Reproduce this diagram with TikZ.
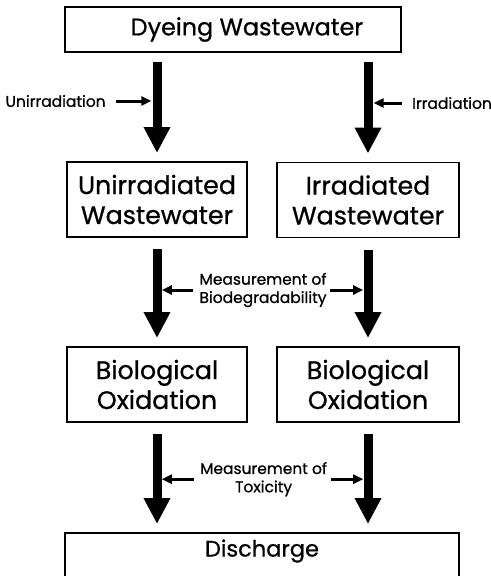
\documentclass[tikz,border=0pt]{standalone}
\usepackage{fontspec}
\setmainfont{Poppins}[FakeBold=0.8]
\usetikzlibrary{arrows.meta}

\tikzset{
    flow box/.style={draw, line width=1.4pt, align=center, inner sep=0pt, minimum width=4.5cm, minimum height=1.875cm, font=\fontsize{18}{21.3}\selectfont},
    flow arrow/.style={line width=0.225cm, -{Triangle[width=0.625cm,length=0.65cm]}, shorten <=0.28cm, shorten >=0.2cm},
    flow label/.style={align=center, inner sep=0pt, font=\fontsize{11}{13}\selectfont},
    label arrow/.style={line width=0.075cm, -{Triangle[width=0.225cm,length=0.25cm]}}
}

\begin{document}
\begin{tikzpicture}
    \useasboundingbox (0,0) rectangle (12.275,-14.4);

    \node[flow box, minimum width=8.4cm, minimum height=1.125cm, font=\fontsize{17}{20}\selectfont] (dyeing) at (5.825,-0.7375) {\hspace*{0.7cm}Dyeing Wastewater};
    \node[flow box] (unirradiated) at (3.925,-4.9875) {Unirradiated\\Wastewater};
    \node[flow box, minimum width=4.55cm] (irradiated) at (9.2,-5.0) {Irradiated\\Wastewater};
    \node[flow box] (oxidation left) at (3.925,-9.6125) {Biological\\Oxidation};
    \node[flow box, minimum width=4.55cm] (oxidation right) at (9.2,-9.6125) {Biological\\Oxidation};
    \node[flow box, minimum width=9.85cm, minimum height=1.25cm, text depth=0.5cm, font=\fontsize{16}{19}\selectfont] (discharge) at (6.55,-13.95) {Discharge};

    \draw[flow arrow, shorten <=0.225cm] (dyeing.south -| unirradiated.north) -- (unirradiated.north);
    \draw[flow arrow, shorten <=0.225cm] (dyeing.south -| irradiated.north) -- (irradiated.north);
    \draw[flow arrow] (unirradiated) -- (oxidation left);
    \draw[flow arrow] (irradiated) -- (oxidation right);
    \draw[flow arrow] (oxidation left) -- (oxidation left |- discharge.north);
    \draw[flow arrow] (oxidation right) -- (oxidation right |- discharge.north);

    \node[flow label] (unirradiation) at (1.39,-2.525) {Unirradiation};
    \node[flow label] (irradiation) at (11.3,-2.575) {Irradiation};
    \node[flow label] (biodegradability) at (6.575,-7.25) {Measurement of\\Biodegradability};
    \node[flow label] (toxicity) at (6.59,-11.98) {Measurement of\\Toxicity};

    \draw[label arrow, shorten <=0.25cm, shorten >=0.14cm] (unirradiation.east) -- (unirradiation.east -| unirradiated.center);
    \draw[label arrow, shorten <=0.25cm, shorten >=0.14cm] (irradiation.west) -- (irradiation.west -| irradiated.center);
    \draw[label arrow, shorten <=0.15cm, shorten >=0.12cm] (biodegradability.west) -- (biodegradability.west -| unirradiated.center);
    \draw[label arrow, shorten <=0.08cm, shorten >=0.12cm] (biodegradability.east) -- (biodegradability.east -| irradiated.center);
    \draw[label arrow, shorten <=0.15cm, shorten >=0.12cm] (toxicity.west) -- (toxicity.west -| oxidation left.center);
    \draw[label arrow, shorten <=0.08cm, shorten >=0.12cm] (toxicity.east) -- (toxicity.east -| oxidation right.center);
\end{tikzpicture}
\end{document}
